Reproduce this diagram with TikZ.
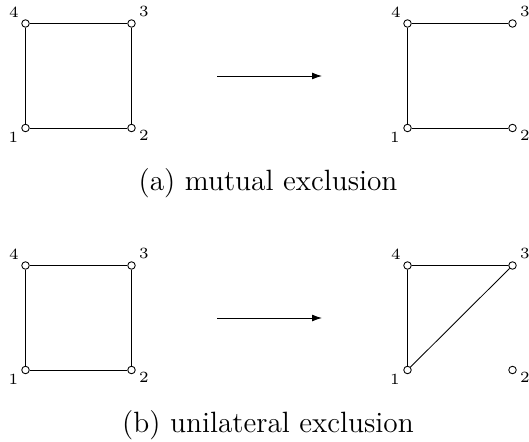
\documentclass[tikz,border=0pt]{standalone}
\usetikzlibrary{arrows.meta}
\begin{document}
\begin{tikzpicture}[x=0.385pt,y=-0.385pt,
  vtx/.style={circle,draw,fill=white,inner sep=0pt,minimum size=2.9pt,line width=0.33pt},
  lbl/.style={font=\fontsize{6}{7}\selectfont,inner sep=0pt},
  edge/.style={line width=0.33pt},
  arr/.style={line width=0.33pt,-{Latex[length=3.8pt,width=2.6pt]}},
  captext/.style={font=\fontsize{11.3}{13}\selectfont,inner sep=0pt}]
\useasboundingbox (0,0) rectangle (529,442);
% (a) left
\node[vtx] (a1) at (25.5,128) {};
\node[vtx] (a2) at (131.5,128) {};
\node[vtx] (a3) at (131.5,23.5) {};
\node[vtx] (a4) at (25.5,23.5) {};
\draw[edge] (a1) -- (a2) -- (a3) -- (a4) -- (a1);
\node[lbl] (la1) at (13.5,137) {1};
\node[lbl] (la2) at (144,135) {2};
\node[lbl] (la3) at (144,11) {3};
\node[lbl] (la4) at (14,12) {4};
% (a) right
\node[vtx] (b1) at (407.5,128) {};
\node[vtx] (b2) at (512.5,128) {};
\node[vtx] (b3) at (512.5,23.5) {};
\node[vtx] (b4) at (407.5,23.5) {};
\draw[edge] (b2) -- (b1) -- (b4) -- (b3);
\node[lbl] (lb1) at (395,137) {1};
\node[lbl] (lb2) at (525,135) {2};
\node[lbl] (lb3) at (525,11) {3};
\node[lbl] (lb4) at (396,12) {4};
\coordinate (aa) at (217,76);
\coordinate (ab) at (322,76);
\draw[arr] (aa) -- (ab);
\node[captext] (capa) at (268,183) {(a) mutual exclusion};
% (b) left
\node[vtx] (c1) at (25.5,370) {};
\node[vtx] (c2) at (131.5,370) {};
\node[vtx] (c3) at (131.5,265.5) {};
\node[vtx] (c4) at (25.5,265.5) {};
\draw[edge] (c1) -- (c2) -- (c3) -- (c4) -- (c1);
\node[lbl] (lc1) at (13.5,379) {1};
\node[lbl] (lc2) at (144,377) {2};
\node[lbl] (lc3) at (144,253) {3};
\node[lbl] (lc4) at (14,254) {4};
% (b) right
\node[vtx] (d1) at (407.5,370) {};
\node[vtx] (d2) at (512.5,370) {};
\node[vtx] (d3) at (512.5,265.5) {};
\node[vtx] (d4) at (407.5,265.5) {};
\draw[edge] (d3) -- (d1) -- (d4) -- (d3);
\node[lbl] (ld1) at (395,379) {1};
\node[lbl] (ld2) at (525,377) {2};
\node[lbl] (ld3) at (525,253) {3};
\node[lbl] (ld4) at (396,254) {4};
\coordinate (ba) at (217,318);
\coordinate (bb) at (322,318);
\draw[arr] (ba) -- (bb);
\node[captext] (capb) at (268,425) {(b) unilateral exclusion};
\end{tikzpicture}
\end{document}
